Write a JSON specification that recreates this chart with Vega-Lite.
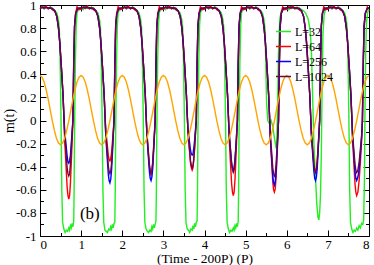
{
"$schema":"https://vega.github.io/schema/vega-lite/v6.json",
"width":329,"height":231,
"autosize":{"type":"none"},
"padding":{"left":40,"top":5,"right":5,"bottom":29},
"background":"white",
"config":{
"view":{"stroke":"black","strokeWidth":1},
"axis":{"grid":false,"domain":false,"tickColor":"black","tickWidth":1,"labelFont":"Liberation Serif","labelFontSize":13,"labelColor":"black","titleFont":"Liberation Serif","titleFontSize":14,"titleFontWeight":"normal","titleColor":"black"}
},
"resolve":{"axis":{"x":"independent","y":"independent"}},
"datasets":{
"lab":[{"t":0.97,"m":-0.81,"label":"(b)"}],
"h":[
{"t":0,"h":0.39},{"t":0.05,"h":0.375},{"t":0.1,"h":0.333},{"t":0.15,"h":0.266},{"t":0.2,"h":0.183},{"t":0.25,"h":0.09},{"t":0.3,"h":-0.003},{"t":0.35,"h":-0.086},{"t":0.4,"h":-0.153},{"t":0.45,"h":-0.195},{"t":0.5,"h":-0.21},{"t":0.55,"h":-0.195},{"t":0.6,"h":-0.153},{"t":0.65,"h":-0.086},{"t":0.7,"h":-0.003},{"t":0.75,"h":0.09},{"t":0.8,"h":0.183},{"t":0.85,"h":0.266},{"t":0.9,"h":0.333},{"t":0.95,"h":0.375},
{"t":1,"h":0.39},{"t":1.05,"h":0.375},{"t":1.1,"h":0.333},{"t":1.15,"h":0.266},{"t":1.2,"h":0.183},{"t":1.25,"h":0.09},{"t":1.3,"h":-0.003},{"t":1.35,"h":-0.086},{"t":1.4,"h":-0.153},{"t":1.45,"h":-0.195},{"t":1.5,"h":-0.21},{"t":1.55,"h":-0.195},{"t":1.6,"h":-0.153},{"t":1.65,"h":-0.086},{"t":1.7,"h":-0.003},{"t":1.75,"h":0.09},{"t":1.8,"h":0.183},{"t":1.85,"h":0.266},{"t":1.9,"h":0.333},{"t":1.95,"h":0.375},
{"t":2,"h":0.39},{"t":2.05,"h":0.375},{"t":2.1,"h":0.333},{"t":2.15,"h":0.266},{"t":2.2,"h":0.183},{"t":2.25,"h":0.09},{"t":2.3,"h":-0.003},{"t":2.35,"h":-0.086},{"t":2.4,"h":-0.153},{"t":2.45,"h":-0.195},{"t":2.5,"h":-0.21},{"t":2.55,"h":-0.195},{"t":2.6,"h":-0.153},{"t":2.65,"h":-0.086},{"t":2.7,"h":-0.003},{"t":2.75,"h":0.09},{"t":2.8,"h":0.183},{"t":2.85,"h":0.266},{"t":2.9,"h":0.333},{"t":2.95,"h":0.375},
{"t":3,"h":0.39},{"t":3.05,"h":0.375},{"t":3.1,"h":0.333},{"t":3.15,"h":0.266},{"t":3.2,"h":0.183},{"t":3.25,"h":0.09},{"t":3.3,"h":-0.003},{"t":3.35,"h":-0.086},{"t":3.4,"h":-0.153},{"t":3.45,"h":-0.195},{"t":3.5,"h":-0.21},{"t":3.55,"h":-0.195},{"t":3.6,"h":-0.153},{"t":3.65,"h":-0.086},{"t":3.7,"h":-0.003},{"t":3.75,"h":0.09},{"t":3.8,"h":0.183},{"t":3.85,"h":0.266},{"t":3.9,"h":0.333},{"t":3.95,"h":0.375},
{"t":4,"h":0.39},{"t":4.05,"h":0.375},{"t":4.1,"h":0.333},{"t":4.15,"h":0.266},{"t":4.2,"h":0.183},{"t":4.25,"h":0.09},{"t":4.3,"h":-0.003},{"t":4.35,"h":-0.086},{"t":4.4,"h":-0.153},{"t":4.45,"h":-0.195},{"t":4.5,"h":-0.21},{"t":4.55,"h":-0.195},{"t":4.6,"h":-0.153},{"t":4.65,"h":-0.086},{"t":4.7,"h":-0.003},{"t":4.75,"h":0.09},{"t":4.8,"h":0.183},{"t":4.85,"h":0.266},{"t":4.9,"h":0.333},{"t":4.95,"h":0.375},
{"t":5,"h":0.39},{"t":5.05,"h":0.375},{"t":5.1,"h":0.333},{"t":5.15,"h":0.266},{"t":5.2,"h":0.183},{"t":5.25,"h":0.09},{"t":5.3,"h":-0.003},{"t":5.35,"h":-0.086},{"t":5.4,"h":-0.153},{"t":5.45,"h":-0.195},{"t":5.5,"h":-0.21},{"t":5.55,"h":-0.195},{"t":5.6,"h":-0.153},{"t":5.65,"h":-0.086},{"t":5.7,"h":-0.003},{"t":5.75,"h":0.09},{"t":5.8,"h":0.183},{"t":5.85,"h":0.266},{"t":5.9,"h":0.333},{"t":5.95,"h":0.375},
{"t":6,"h":0.39},{"t":6.05,"h":0.375},{"t":6.1,"h":0.333},{"t":6.15,"h":0.266},{"t":6.2,"h":0.183},{"t":6.25,"h":0.09},{"t":6.3,"h":-0.003},{"t":6.35,"h":-0.086},{"t":6.4,"h":-0.153},{"t":6.45,"h":-0.195},{"t":6.5,"h":-0.21},{"t":6.55,"h":-0.195},{"t":6.6,"h":-0.153},{"t":6.65,"h":-0.086},{"t":6.7,"h":-0.003},{"t":6.75,"h":0.09},{"t":6.8,"h":0.183},{"t":6.85,"h":0.266},{"t":6.9,"h":0.333},{"t":6.95,"h":0.375},
{"t":7,"h":0.39},{"t":7.05,"h":0.375},{"t":7.1,"h":0.333},{"t":7.15,"h":0.266},{"t":7.2,"h":0.183},{"t":7.25,"h":0.09},{"t":7.3,"h":-0.003},{"t":7.35,"h":-0.086},{"t":7.4,"h":-0.153},{"t":7.45,"h":-0.195},{"t":7.5,"h":-0.21},{"t":7.55,"h":-0.195},{"t":7.6,"h":-0.153},{"t":7.65,"h":-0.086},{"t":7.7,"h":-0.003},{"t":7.75,"h":0.09},{"t":7.8,"h":0.183},{"t":7.85,"h":0.266},{"t":7.9,"h":0.333},{"t":7.95,"h":0.375},
{"t":8,"h":0.39}
],
"m":[
{"s":"L=32","t":0,"m":0.97},{"s":"L=32","t":0.05,"m":0.985},{"s":"L=32","t":0.1,"m":0.965},{"s":"L=32","t":0.15,"m":0.98},{"s":"L=32","t":0.2,"m":0.97},{"s":"L=32","t":0.25,"m":0.985},{"s":"L=32","t":0.3,"m":0.965},{"s":"L=32","t":0.36,"m":0.955},{"s":"L=32","t":0.41,"m":0.93},{"s":"L=32","t":0.45,"m":0.87},{"s":"L=32","t":0.47,"m":0.8},{"s":"L=32","t":0.49,"m":0.5},{"s":"L=32","t":0.51,"m":0.05},{"s":"L=32","t":0.53,"m":-0.6},{"s":"L=32","t":0.55,"m":-0.88},{"s":"L=32","t":0.58,"m":-0.94},{"s":"L=32","t":0.61,"m":-0.97},{"s":"L=32","t":0.64,"m":-0.95},{"s":"L=32","t":0.67,"m":-0.96},{"s":"L=32","t":0.7,"m":-0.93},{"s":"L=32","t":0.72,"m":-0.95},{"s":"L=32","t":0.74,"m":-0.91},{"s":"L=32","t":0.76,"m":-0.93},{"s":"L=32","t":0.78,"m":-0.89},{"s":"L=32","t":0.8,"m":-0.92},{"s":"L=32","t":0.82,"m":-0.87},{"s":"L=32","t":0.83,"m":-0.6},{"s":"L=32","t":0.84,"m":-0.1},{"s":"L=32","t":0.86,"m":0.5},{"s":"L=32","t":0.88,"m":0.82},{"s":"L=32","t":0.9,"m":0.93},{"s":"L=32","t":0.94,"m":0.97},
{"s":"L=32","t":1,"m":0.975},{"s":"L=32","t":1.05,"m":0.96},{"s":"L=32","t":1.1,"m":0.985},{"s":"L=32","t":1.15,"m":0.97},{"s":"L=32","t":1.2,"m":0.98},{"s":"L=32","t":1.25,"m":0.965},{"s":"L=32","t":1.3,"m":0.975},{"s":"L=32","t":1.36,"m":0.95},{"s":"L=32","t":1.41,"m":0.93},{"s":"L=32","t":1.45,"m":0.87},{"s":"L=32","t":1.47,"m":0.8},{"s":"L=32","t":1.49,"m":0.5},{"s":"L=32","t":1.51,"m":0.05},{"s":"L=32","t":1.53,"m":-0.6},{"s":"L=32","t":1.55,"m":-0.88},{"s":"L=32","t":1.58,"m":-0.95},{"s":"L=32","t":1.61,"m":-0.96},{"s":"L=32","t":1.64,"m":-0.97},{"s":"L=32","t":1.67,"m":-0.94},{"s":"L=32","t":1.7,"m":-0.95},{"s":"L=32","t":1.72,"m":-0.92},{"s":"L=32","t":1.74,"m":-0.94},{"s":"L=32","t":1.76,"m":-0.9},{"s":"L=32","t":1.78,"m":-0.93},{"s":"L=32","t":1.8,"m":-0.89},{"s":"L=32","t":1.82,"m":-0.88},{"s":"L=32","t":1.83,"m":-0.6},{"s":"L=32","t":1.84,"m":-0.1},{"s":"L=32","t":1.86,"m":0.5},{"s":"L=32","t":1.88,"m":0.82},{"s":"L=32","t":1.9,"m":0.93},{"s":"L=32","t":1.94,"m":0.97},
{"s":"L=32","t":2,"m":0.97},{"s":"L=32","t":2.05,"m":0.985},{"s":"L=32","t":2.1,"m":0.965},{"s":"L=32","t":2.15,"m":0.98},{"s":"L=32","t":2.2,"m":0.97},{"s":"L=32","t":2.25,"m":0.985},{"s":"L=32","t":2.3,"m":0.965},{"s":"L=32","t":2.36,"m":0.955},{"s":"L=32","t":2.41,"m":0.93},{"s":"L=32","t":2.45,"m":0.87},{"s":"L=32","t":2.47,"m":0.8},{"s":"L=32","t":2.49,"m":0.5},{"s":"L=32","t":2.51,"m":0.05},{"s":"L=32","t":2.53,"m":-0.6},{"s":"L=32","t":2.55,"m":-0.88},{"s":"L=32","t":2.58,"m":-0.94},{"s":"L=32","t":2.61,"m":-0.96},{"s":"L=32","t":2.64,"m":-0.97},{"s":"L=32","t":2.67,"m":-0.95},{"s":"L=32","t":2.7,"m":-0.96},{"s":"L=32","t":2.72,"m":-0.92},{"s":"L=32","t":2.74,"m":-0.94},{"s":"L=32","t":2.76,"m":-0.9},{"s":"L=32","t":2.78,"m":-0.93},{"s":"L=32","t":2.8,"m":-0.9},{"s":"L=32","t":2.82,"m":-0.87},{"s":"L=32","t":2.83,"m":-0.6},{"s":"L=32","t":2.84,"m":-0.1},{"s":"L=32","t":2.86,"m":0.5},{"s":"L=32","t":2.88,"m":0.82},{"s":"L=32","t":2.9,"m":0.93},{"s":"L=32","t":2.94,"m":0.97},
{"s":"L=32","t":3,"m":0.975},{"s":"L=32","t":3.05,"m":0.96},{"s":"L=32","t":3.1,"m":0.985},{"s":"L=32","t":3.15,"m":0.97},{"s":"L=32","t":3.2,"m":0.98},{"s":"L=32","t":3.25,"m":0.965},{"s":"L=32","t":3.3,"m":0.975},{"s":"L=32","t":3.36,"m":0.95},{"s":"L=32","t":3.41,"m":0.93},{"s":"L=32","t":3.45,"m":0.87},{"s":"L=32","t":3.47,"m":0.8},{"s":"L=32","t":3.49,"m":0.5},{"s":"L=32","t":3.51,"m":0.05},{"s":"L=32","t":3.53,"m":-0.6},{"s":"L=32","t":3.55,"m":-0.88},{"s":"L=32","t":3.58,"m":-0.94},{"s":"L=32","t":3.61,"m":-0.95},{"s":"L=32","t":3.64,"m":-0.97},{"s":"L=32","t":3.67,"m":-0.94},{"s":"L=32","t":3.7,"m":-0.95},{"s":"L=32","t":3.72,"m":-0.91},{"s":"L=32","t":3.74,"m":-0.94},{"s":"L=32","t":3.76,"m":-0.89},{"s":"L=32","t":3.78,"m":-0.92},{"s":"L=32","t":3.8,"m":-0.88},{"s":"L=32","t":3.82,"m":-0.87},{"s":"L=32","t":3.83,"m":-0.6},{"s":"L=32","t":3.84,"m":-0.1},{"s":"L=32","t":3.86,"m":0.5},{"s":"L=32","t":3.88,"m":0.82},{"s":"L=32","t":3.9,"m":0.93},{"s":"L=32","t":3.94,"m":0.97},
{"s":"L=32","t":4,"m":0.97},{"s":"L=32","t":4.05,"m":0.985},{"s":"L=32","t":4.1,"m":0.965},{"s":"L=32","t":4.15,"m":0.98},{"s":"L=32","t":4.2,"m":0.97},{"s":"L=32","t":4.25,"m":0.985},{"s":"L=32","t":4.3,"m":0.965},{"s":"L=32","t":4.36,"m":0.955},{"s":"L=32","t":4.41,"m":0.93},{"s":"L=32","t":4.45,"m":0.87},{"s":"L=32","t":4.47,"m":0.8},{"s":"L=32","t":4.49,"m":0.5},{"s":"L=32","t":4.51,"m":0.05},{"s":"L=32","t":4.53,"m":-0.6},{"s":"L=32","t":4.55,"m":-0.88},{"s":"L=32","t":4.58,"m":-0.94},{"s":"L=32","t":4.61,"m":-0.97},{"s":"L=32","t":4.64,"m":-0.95},{"s":"L=32","t":4.67,"m":-0.96},{"s":"L=32","t":4.7,"m":-0.93},{"s":"L=32","t":4.72,"m":-0.95},{"s":"L=32","t":4.74,"m":-0.91},{"s":"L=32","t":4.76,"m":-0.93},{"s":"L=32","t":4.78,"m":-0.89},{"s":"L=32","t":4.8,"m":-0.92},{"s":"L=32","t":4.82,"m":-0.87},{"s":"L=32","t":4.83,"m":-0.6},{"s":"L=32","t":4.84,"m":-0.1},{"s":"L=32","t":4.86,"m":0.5},{"s":"L=32","t":4.88,"m":0.82},{"s":"L=32","t":4.9,"m":0.93},{"s":"L=32","t":4.94,"m":0.97},
{"s":"L=32","t":5,"m":0.97},{"s":"L=32","t":5.05,"m":0.985},{"s":"L=32","t":5.1,"m":0.965},{"s":"L=32","t":5.15,"m":0.98},{"s":"L=32","t":5.2,"m":0.97},{"s":"L=32","t":5.25,"m":0.985},{"s":"L=32","t":5.3,"m":0.965},{"s":"L=32","t":5.36,"m":0.955},{"s":"L=32","t":5.41,"m":0.93},{"s":"L=32","t":5.45,"m":0.87},{"s":"L=32","t":5.47,"m":0.8},{"s":"L=32","t":5.49,"m":0.5},{"s":"L=32","t":5.51,"m":0.15},{"s":"L=32","t":5.54,"m":0.0},{"s":"L=32","t":5.58,"m":-0.03},{"s":"L=32","t":5.62,"m":0.0},{"s":"L=32","t":5.66,"m":-0.05},{"s":"L=32","t":5.7,"m":-0.15},{"s":"L=32","t":5.74,"m":-0.24},{"s":"L=32","t":5.76,"m":-0.15},{"s":"L=32","t":5.78,"m":0.2},{"s":"L=32","t":5.8,"m":0.6},{"s":"L=32","t":5.83,"m":0.88},{"s":"L=32","t":5.87,"m":0.95},{"s":"L=32","t":5.92,"m":0.97},
{"s":"L=32","t":6,"m":0.975},{"s":"L=32","t":6.05,"m":0.96},{"s":"L=32","t":6.1,"m":0.985},{"s":"L=32","t":6.15,"m":0.97},{"s":"L=32","t":6.2,"m":0.98},{"s":"L=32","t":6.25,"m":0.965},{"s":"L=32","t":6.3,"m":0.975},{"s":"L=32","t":6.36,"m":0.96},{"s":"L=32","t":6.41,"m":0.95},{"s":"L=32","t":6.46,"m":0.93},{"s":"L=32","t":6.52,"m":0.88},{"s":"L=32","t":6.57,"m":0.78},{"s":"L=32","t":6.6,"m":0.6},{"s":"L=32","t":6.63,"m":0.2},{"s":"L=32","t":6.66,"m":-0.2},{"s":"L=32","t":6.7,"m":-0.5},{"s":"L=32","t":6.73,"m":-0.72},{"s":"L=32","t":6.76,"m":-0.84},{"s":"L=32","t":6.78,"m":-0.86},{"s":"L=32","t":6.8,"m":-0.8},{"s":"L=32","t":6.82,"m":-0.65},{"s":"L=32","t":6.84,"m":-0.3},{"s":"L=32","t":6.86,"m":0.3},{"s":"L=32","t":6.88,"m":0.75},{"s":"L=32","t":6.91,"m":0.92},{"s":"L=32","t":6.95,"m":0.97},
{"s":"L=32","t":7,"m":0.97},{"s":"L=32","t":7.05,"m":0.985},{"s":"L=32","t":7.1,"m":0.965},{"s":"L=32","t":7.15,"m":0.98},{"s":"L=32","t":7.2,"m":0.97},{"s":"L=32","t":7.25,"m":0.985},{"s":"L=32","t":7.3,"m":0.965},{"s":"L=32","t":7.36,"m":0.955},{"s":"L=32","t":7.41,"m":0.93},{"s":"L=32","t":7.45,"m":0.87},{"s":"L=32","t":7.47,"m":0.8},{"s":"L=32","t":7.49,"m":0.5},{"s":"L=32","t":7.51,"m":0.05},{"s":"L=32","t":7.53,"m":-0.6},{"s":"L=32","t":7.55,"m":-0.88},{"s":"L=32","t":7.58,"m":-0.94},{"s":"L=32","t":7.61,"m":-0.97},{"s":"L=32","t":7.64,"m":-0.95},{"s":"L=32","t":7.67,"m":-0.96},{"s":"L=32","t":7.7,"m":-0.93},{"s":"L=32","t":7.73,"m":-0.95},{"s":"L=32","t":7.76,"m":-0.91},{"s":"L=32","t":7.79,"m":-0.93},{"s":"L=32","t":7.82,"m":-0.89},{"s":"L=32","t":7.85,"m":-0.9},{"s":"L=32","t":7.87,"m":-0.86},{"s":"L=32","t":7.89,"m":-0.5},{"s":"L=32","t":7.9,"m":0.0},{"s":"L=32","t":7.92,"m":0.6},{"s":"L=32","t":7.94,"m":0.85},{"s":"L=32","t":7.97,"m":0.94},{"s":"L=32","t":8,"m":0.96},

{"s":"L=64","t":0,"m":0.965},{"s":"L=64","t":0.05,"m":0.985},{"s":"L=64","t":0.1,"m":0.97},{"s":"L=64","t":0.15,"m":0.99},{"s":"L=64","t":0.2,"m":0.965},{"s":"L=64","t":0.25,"m":0.98},{"s":"L=64","t":0.3,"m":0.96},{"s":"L=64","t":0.36,"m":0.945},{"s":"L=64","t":0.41,"m":0.9},{"s":"L=64","t":0.45,"m":0.8},{"s":"L=64","t":0.48,"m":0.68},{"s":"L=64","t":0.52,"m":0.46},{"s":"L=64","t":0.56,"m":0.22},{"s":"L=64","t":0.58,"m":0.05},{"s":"L=64","t":0.6,"m":-0.17},{"s":"L=64","t":0.63,"m":-0.37},{"s":"L=64","t":0.66,"m":-0.58},{"s":"L=64","t":0.68,"m":-0.65},{"s":"L=64","t":0.7,"m":-0.68},{"s":"L=64","t":0.72,"m":-0.65},{"s":"L=64","t":0.74,"m":-0.54},{"s":"L=64","t":0.76,"m":-0.37},{"s":"L=64","t":0.78,"m":-0.19},{"s":"L=64","t":0.8,"m":0.0},{"s":"L=64","t":0.82,"m":0.45},{"s":"L=64","t":0.84,"m":0.8},{"s":"L=64","t":0.86,"m":0.92},{"s":"L=64","t":0.9,"m":0.985},{"s":"L=64","t":0.95,"m":0.96},
{"s":"L=64","t":1,"m":0.965},{"s":"L=64","t":1.05,"m":0.985},{"s":"L=64","t":1.1,"m":0.97},{"s":"L=64","t":1.15,"m":0.99},{"s":"L=64","t":1.2,"m":0.965},{"s":"L=64","t":1.25,"m":0.98},{"s":"L=64","t":1.3,"m":0.96},{"s":"L=64","t":1.36,"m":0.945},{"s":"L=64","t":1.41,"m":0.9},{"s":"L=64","t":1.45,"m":0.8},{"s":"L=64","t":1.48,"m":0.68},{"s":"L=64","t":1.52,"m":0.46},{"s":"L=64","t":1.56,"m":0.22},{"s":"L=64","t":1.58,"m":0.05},{"s":"L=64","t":1.6,"m":-0.09},{"s":"L=64","t":1.63,"m":-0.19},{"s":"L=64","t":1.66,"m":-0.3},{"s":"L=64","t":1.68,"m":-0.34},{"s":"L=64","t":1.7,"m":-0.35},{"s":"L=64","t":1.72,"m":-0.33},{"s":"L=64","t":1.74,"m":-0.28},{"s":"L=64","t":1.76,"m":-0.19},{"s":"L=64","t":1.78,"m":-0.1},{"s":"L=64","t":1.8,"m":0.0},{"s":"L=64","t":1.82,"m":0.45},{"s":"L=64","t":1.84,"m":0.8},{"s":"L=64","t":1.86,"m":0.92},{"s":"L=64","t":1.9,"m":0.985},{"s":"L=64","t":1.95,"m":0.96},
{"s":"L=64","t":2,"m":0.965},{"s":"L=64","t":2.05,"m":0.985},{"s":"L=64","t":2.1,"m":0.97},{"s":"L=64","t":2.15,"m":0.99},{"s":"L=64","t":2.2,"m":0.965},{"s":"L=64","t":2.25,"m":0.98},{"s":"L=64","t":2.3,"m":0.96},{"s":"L=64","t":2.36,"m":0.945},{"s":"L=64","t":2.41,"m":0.9},{"s":"L=64","t":2.45,"m":0.8},{"s":"L=64","t":2.48,"m":0.68},{"s":"L=64","t":2.52,"m":0.46},{"s":"L=64","t":2.56,"m":0.22},{"s":"L=64","t":2.58,"m":0.05},{"s":"L=64","t":2.6,"m":-0.12},{"s":"L=64","t":2.63,"m":-0.26},{"s":"L=64","t":2.66,"m":-0.4},{"s":"L=64","t":2.68,"m":-0.45},{"s":"L=64","t":2.7,"m":-0.47},{"s":"L=64","t":2.72,"m":-0.45},{"s":"L=64","t":2.74,"m":-0.38},{"s":"L=64","t":2.76,"m":-0.26},{"s":"L=64","t":2.78,"m":-0.13},{"s":"L=64","t":2.8,"m":0.0},{"s":"L=64","t":2.82,"m":0.45},{"s":"L=64","t":2.84,"m":0.8},{"s":"L=64","t":2.86,"m":0.92},{"s":"L=64","t":2.9,"m":0.985},{"s":"L=64","t":2.95,"m":0.96},
{"s":"L=64","t":3,"m":0.965},{"s":"L=64","t":3.05,"m":0.985},{"s":"L=64","t":3.1,"m":0.97},{"s":"L=64","t":3.15,"m":0.99},{"s":"L=64","t":3.2,"m":0.965},{"s":"L=64","t":3.25,"m":0.98},{"s":"L=64","t":3.3,"m":0.96},{"s":"L=64","t":3.36,"m":0.945},{"s":"L=64","t":3.41,"m":0.9},{"s":"L=64","t":3.45,"m":0.8},{"s":"L=64","t":3.48,"m":0.68},{"s":"L=64","t":3.52,"m":0.46},{"s":"L=64","t":3.56,"m":0.22},{"s":"L=64","t":3.58,"m":0.05},{"s":"L=64","t":3.6,"m":-0.11},{"s":"L=64","t":3.63,"m":-0.24},{"s":"L=64","t":3.66,"m":-0.37},{"s":"L=64","t":3.68,"m":-0.41},{"s":"L=64","t":3.7,"m":-0.43},{"s":"L=64","t":3.72,"m":-0.41},{"s":"L=64","t":3.74,"m":-0.34},{"s":"L=64","t":3.76,"m":-0.24},{"s":"L=64","t":3.78,"m":-0.12},{"s":"L=64","t":3.8,"m":0.0},{"s":"L=64","t":3.82,"m":0.45},{"s":"L=64","t":3.84,"m":0.8},{"s":"L=64","t":3.86,"m":0.92},{"s":"L=64","t":3.9,"m":0.985},{"s":"L=64","t":3.95,"m":0.96},
{"s":"L=64","t":4,"m":0.965},{"s":"L=64","t":4.05,"m":0.985},{"s":"L=64","t":4.1,"m":0.97},{"s":"L=64","t":4.15,"m":0.99},{"s":"L=64","t":4.2,"m":0.965},{"s":"L=64","t":4.25,"m":0.98},{"s":"L=64","t":4.3,"m":0.96},{"s":"L=64","t":4.36,"m":0.945},{"s":"L=64","t":4.41,"m":0.9},{"s":"L=64","t":4.45,"m":0.8},{"s":"L=64","t":4.48,"m":0.68},{"s":"L=64","t":4.52,"m":0.46},{"s":"L=64","t":4.56,"m":0.22},{"s":"L=64","t":4.58,"m":0.05},{"s":"L=64","t":4.6,"m":-0.16},{"s":"L=64","t":4.63,"m":-0.36},{"s":"L=64","t":4.66,"m":-0.55},{"s":"L=64","t":4.68,"m":-0.62},{"s":"L=64","t":4.7,"m":-0.65},{"s":"L=64","t":4.72,"m":-0.62},{"s":"L=64","t":4.74,"m":-0.52},{"s":"L=64","t":4.76,"m":-0.36},{"s":"L=64","t":4.78,"m":-0.18},{"s":"L=64","t":4.8,"m":0.0},{"s":"L=64","t":4.82,"m":0.45},{"s":"L=64","t":4.84,"m":0.8},{"s":"L=64","t":4.86,"m":0.92},{"s":"L=64","t":4.9,"m":0.985},{"s":"L=64","t":4.95,"m":0.96},
{"s":"L=64","t":5,"m":0.965},{"s":"L=64","t":5.05,"m":0.985},{"s":"L=64","t":5.1,"m":0.97},{"s":"L=64","t":5.15,"m":0.99},{"s":"L=64","t":5.2,"m":0.965},{"s":"L=64","t":5.25,"m":0.98},{"s":"L=64","t":5.3,"m":0.96},{"s":"L=64","t":5.36,"m":0.945},{"s":"L=64","t":5.41,"m":0.9},{"s":"L=64","t":5.45,"m":0.8},{"s":"L=64","t":5.48,"m":0.68},{"s":"L=64","t":5.52,"m":0.46},{"s":"L=64","t":5.56,"m":0.22},{"s":"L=64","t":5.58,"m":0.05},{"s":"L=64","t":5.6,"m":-0.16},{"s":"L=64","t":5.63,"m":-0.34},{"s":"L=64","t":5.66,"m":-0.53},{"s":"L=64","t":5.68,"m":-0.6},{"s":"L=64","t":5.7,"m":-0.62},{"s":"L=64","t":5.72,"m":-0.59},{"s":"L=64","t":5.74,"m":-0.5},{"s":"L=64","t":5.76,"m":-0.34},{"s":"L=64","t":5.78,"m":-0.17},{"s":"L=64","t":5.8,"m":0.0},{"s":"L=64","t":5.82,"m":0.45},{"s":"L=64","t":5.84,"m":0.8},{"s":"L=64","t":5.86,"m":0.92},{"s":"L=64","t":5.9,"m":0.985},{"s":"L=64","t":5.95,"m":0.96},
{"s":"L=64","t":6,"m":0.965},{"s":"L=64","t":6.05,"m":0.985},{"s":"L=64","t":6.1,"m":0.97},{"s":"L=64","t":6.15,"m":0.99},{"s":"L=64","t":6.2,"m":0.965},{"s":"L=64","t":6.25,"m":0.98},{"s":"L=64","t":6.3,"m":0.96},{"s":"L=64","t":6.36,"m":0.945},{"s":"L=64","t":6.41,"m":0.9},{"s":"L=64","t":6.45,"m":0.8},{"s":"L=64","t":6.48,"m":0.68},{"s":"L=64","t":6.52,"m":0.46},{"s":"L=64","t":6.56,"m":0.22},{"s":"L=64","t":6.58,"m":0.05},{"s":"L=64","t":6.6,"m":-0.11},{"s":"L=64","t":6.63,"m":-0.25},{"s":"L=64","t":6.66,"m":-0.38},{"s":"L=64","t":6.68,"m":-0.43},{"s":"L=64","t":6.7,"m":-0.45},{"s":"L=64","t":6.72,"m":-0.43},{"s":"L=64","t":6.74,"m":-0.36},{"s":"L=64","t":6.76,"m":-0.25},{"s":"L=64","t":6.78,"m":-0.13},{"s":"L=64","t":6.8,"m":0.0},{"s":"L=64","t":6.82,"m":0.45},{"s":"L=64","t":6.84,"m":0.8},{"s":"L=64","t":6.86,"m":0.92},{"s":"L=64","t":6.9,"m":0.985},{"s":"L=64","t":6.95,"m":0.96},
{"s":"L=64","t":7,"m":0.965},{"s":"L=64","t":7.05,"m":0.985},{"s":"L=64","t":7.1,"m":0.97},{"s":"L=64","t":7.15,"m":0.99},{"s":"L=64","t":7.2,"m":0.965},{"s":"L=64","t":7.25,"m":0.98},{"s":"L=64","t":7.3,"m":0.96},{"s":"L=64","t":7.36,"m":0.945},{"s":"L=64","t":7.41,"m":0.9},{"s":"L=64","t":7.45,"m":0.8},{"s":"L=64","t":7.48,"m":0.68},{"s":"L=64","t":7.52,"m":0.46},{"s":"L=64","t":7.56,"m":0.22},{"s":"L=64","t":7.58,"m":0.05},{"s":"L=64","t":7.6,"m":-0.16},{"s":"L=64","t":7.63,"m":-0.36},{"s":"L=64","t":7.66,"m":-0.55},{"s":"L=64","t":7.68,"m":-0.62},{"s":"L=64","t":7.7,"m":-0.65},{"s":"L=64","t":7.73,"m":-0.62},{"s":"L=64","t":7.76,"m":-0.52},{"s":"L=64","t":7.79,"m":-0.36},{"s":"L=64","t":7.82,"m":-0.18},{"s":"L=64","t":7.84,"m":0.0},{"s":"L=64","t":7.86,"m":0.45},{"s":"L=64","t":7.88,"m":0.8},{"s":"L=64","t":7.91,"m":0.92},{"s":"L=64","t":7.96,"m":0.985},{"s":"L=64","t":8,"m":0.965},

{"s":"L=256","t":0,"m":0.975},{"s":"L=256","t":0.1,"m":0.98},{"s":"L=256","t":0.2,"m":0.975},{"s":"L=256","t":0.3,"m":0.97},{"s":"L=256","t":0.36,"m":0.95},{"s":"L=256","t":0.41,"m":0.9},{"s":"L=256","t":0.45,"m":0.8},{"s":"L=256","t":0.48,"m":0.68},{"s":"L=256","t":0.52,"m":0.46},{"s":"L=256","t":0.56,"m":0.22},{"s":"L=256","t":0.58,"m":0.05},{"s":"L=256","t":0.6,"m":-0.09},{"s":"L=256","t":0.63,"m":-0.2},{"s":"L=256","t":0.66,"m":-0.31},{"s":"L=256","t":0.68,"m":-0.36},{"s":"L=256","t":0.7,"m":-0.37},{"s":"L=256","t":0.72,"m":-0.35},{"s":"L=256","t":0.74,"m":-0.3},{"s":"L=256","t":0.76,"m":-0.2},{"s":"L=256","t":0.78,"m":-0.1},{"s":"L=256","t":0.8,"m":0.0},{"s":"L=256","t":0.82,"m":0.5},{"s":"L=256","t":0.84,"m":0.82},{"s":"L=256","t":0.87,"m":0.93},{"s":"L=256","t":0.92,"m":0.97},
{"s":"L=256","t":1,"m":0.975},{"s":"L=256","t":1.1,"m":0.98},{"s":"L=256","t":1.2,"m":0.975},{"s":"L=256","t":1.3,"m":0.97},{"s":"L=256","t":1.36,"m":0.95},{"s":"L=256","t":1.41,"m":0.9},{"s":"L=256","t":1.45,"m":0.8},{"s":"L=256","t":1.48,"m":0.68},{"s":"L=256","t":1.52,"m":0.46},{"s":"L=256","t":1.56,"m":0.22},{"s":"L=256","t":1.58,"m":0.05},{"s":"L=256","t":1.6,"m":-0.14},{"s":"L=256","t":1.63,"m":-0.3},{"s":"L=256","t":1.66,"m":-0.46},{"s":"L=256","t":1.68,"m":-0.52},{"s":"L=256","t":1.7,"m":-0.54},{"s":"L=256","t":1.72,"m":-0.51},{"s":"L=256","t":1.74,"m":-0.43},{"s":"L=256","t":1.76,"m":-0.3},{"s":"L=256","t":1.78,"m":-0.15},{"s":"L=256","t":1.8,"m":0.0},{"s":"L=256","t":1.82,"m":0.5},{"s":"L=256","t":1.84,"m":0.82},{"s":"L=256","t":1.87,"m":0.93},{"s":"L=256","t":1.92,"m":0.97},
{"s":"L=256","t":2,"m":0.975},{"s":"L=256","t":2.1,"m":0.98},{"s":"L=256","t":2.2,"m":0.975},{"s":"L=256","t":2.3,"m":0.97},{"s":"L=256","t":2.36,"m":0.95},{"s":"L=256","t":2.41,"m":0.9},{"s":"L=256","t":2.45,"m":0.8},{"s":"L=256","t":2.48,"m":0.68},{"s":"L=256","t":2.52,"m":0.46},{"s":"L=256","t":2.56,"m":0.22},{"s":"L=256","t":2.58,"m":0.05},{"s":"L=256","t":2.6,"m":-0.13},{"s":"L=256","t":2.63,"m":-0.29},{"s":"L=256","t":2.66,"m":-0.44},{"s":"L=256","t":2.68,"m":-0.5},{"s":"L=256","t":2.7,"m":-0.52},{"s":"L=256","t":2.72,"m":-0.49},{"s":"L=256","t":2.74,"m":-0.42},{"s":"L=256","t":2.76,"m":-0.29},{"s":"L=256","t":2.78,"m":-0.15},{"s":"L=256","t":2.8,"m":0.0},{"s":"L=256","t":2.82,"m":0.5},{"s":"L=256","t":2.84,"m":0.82},{"s":"L=256","t":2.87,"m":0.93},{"s":"L=256","t":2.92,"m":0.97},
{"s":"L=256","t":3,"m":0.975},{"s":"L=256","t":3.1,"m":0.98},{"s":"L=256","t":3.2,"m":0.975},{"s":"L=256","t":3.3,"m":0.97},{"s":"L=256","t":3.36,"m":0.95},{"s":"L=256","t":3.41,"m":0.9},{"s":"L=256","t":3.45,"m":0.8},{"s":"L=256","t":3.48,"m":0.68},{"s":"L=256","t":3.52,"m":0.46},{"s":"L=256","t":3.56,"m":0.22},{"s":"L=256","t":3.58,"m":0.05},{"s":"L=256","t":3.6,"m":-0.08},{"s":"L=256","t":3.63,"m":-0.17},{"s":"L=256","t":3.66,"m":-0.26},{"s":"L=256","t":3.68,"m":-0.29},{"s":"L=256","t":3.7,"m":-0.3},{"s":"L=256","t":3.72,"m":-0.29},{"s":"L=256","t":3.74,"m":-0.24},{"s":"L=256","t":3.76,"m":-0.17},{"s":"L=256","t":3.78,"m":-0.08},{"s":"L=256","t":3.8,"m":0.0},{"s":"L=256","t":3.82,"m":0.5},{"s":"L=256","t":3.84,"m":0.82},{"s":"L=256","t":3.87,"m":0.93},{"s":"L=256","t":3.92,"m":0.97},
{"s":"L=256","t":4,"m":0.975},{"s":"L=256","t":4.1,"m":0.98},{"s":"L=256","t":4.2,"m":0.975},{"s":"L=256","t":4.3,"m":0.97},{"s":"L=256","t":4.36,"m":0.95},{"s":"L=256","t":4.41,"m":0.9},{"s":"L=256","t":4.45,"m":0.8},{"s":"L=256","t":4.48,"m":0.68},{"s":"L=256","t":4.52,"m":0.46},{"s":"L=256","t":4.56,"m":0.22},{"s":"L=256","t":4.58,"m":0.05},{"s":"L=256","t":4.6,"m":-0.11},{"s":"L=256","t":4.63,"m":-0.24},{"s":"L=256","t":4.66,"m":-0.37},{"s":"L=256","t":4.68,"m":-0.41},{"s":"L=256","t":4.7,"m":-0.43},{"s":"L=256","t":4.72,"m":-0.41},{"s":"L=256","t":4.74,"m":-0.34},{"s":"L=256","t":4.76,"m":-0.24},{"s":"L=256","t":4.78,"m":-0.12},{"s":"L=256","t":4.8,"m":0.0},{"s":"L=256","t":4.82,"m":0.5},{"s":"L=256","t":4.84,"m":0.82},{"s":"L=256","t":4.87,"m":0.93},{"s":"L=256","t":4.92,"m":0.97},
{"s":"L=256","t":5,"m":0.975},{"s":"L=256","t":5.1,"m":0.98},{"s":"L=256","t":5.2,"m":0.975},{"s":"L=256","t":5.3,"m":0.97},{"s":"L=256","t":5.36,"m":0.95},{"s":"L=256","t":5.41,"m":0.9},{"s":"L=256","t":5.45,"m":0.8},{"s":"L=256","t":5.48,"m":0.68},{"s":"L=256","t":5.52,"m":0.46},{"s":"L=256","t":5.56,"m":0.22},{"s":"L=256","t":5.58,"m":0.05},{"s":"L=256","t":5.6,"m":-0.14},{"s":"L=256","t":5.63,"m":-0.31},{"s":"L=256","t":5.66,"m":-0.48},{"s":"L=256","t":5.68,"m":-0.54},{"s":"L=256","t":5.7,"m":-0.56},{"s":"L=256","t":5.72,"m":-0.53},{"s":"L=256","t":5.74,"m":-0.45},{"s":"L=256","t":5.76,"m":-0.31},{"s":"L=256","t":5.78,"m":-0.16},{"s":"L=256","t":5.8,"m":0.0},{"s":"L=256","t":5.82,"m":0.5},{"s":"L=256","t":5.84,"m":0.82},{"s":"L=256","t":5.87,"m":0.93},{"s":"L=256","t":5.92,"m":0.97},
{"s":"L=256","t":6,"m":0.975},{"s":"L=256","t":6.1,"m":0.98},{"s":"L=256","t":6.2,"m":0.975},{"s":"L=256","t":6.3,"m":0.97},{"s":"L=256","t":6.36,"m":0.95},{"s":"L=256","t":6.41,"m":0.9},{"s":"L=256","t":6.45,"m":0.8},{"s":"L=256","t":6.48,"m":0.68},{"s":"L=256","t":6.52,"m":0.46},{"s":"L=256","t":6.56,"m":0.22},{"s":"L=256","t":6.58,"m":0.05},{"s":"L=256","t":6.6,"m":-0.13},{"s":"L=256","t":6.63,"m":-0.29},{"s":"L=256","t":6.66,"m":-0.44},{"s":"L=256","t":6.68,"m":-0.5},{"s":"L=256","t":6.7,"m":-0.52},{"s":"L=256","t":6.72,"m":-0.49},{"s":"L=256","t":6.74,"m":-0.42},{"s":"L=256","t":6.76,"m":-0.29},{"s":"L=256","t":6.78,"m":-0.15},{"s":"L=256","t":6.8,"m":0.0},{"s":"L=256","t":6.82,"m":0.5},{"s":"L=256","t":6.84,"m":0.82},{"s":"L=256","t":6.87,"m":0.93},{"s":"L=256","t":6.92,"m":0.97},
{"s":"L=256","t":7,"m":0.975},{"s":"L=256","t":7.1,"m":0.98},{"s":"L=256","t":7.2,"m":0.975},{"s":"L=256","t":7.3,"m":0.97},{"s":"L=256","t":7.36,"m":0.95},{"s":"L=256","t":7.41,"m":0.9},{"s":"L=256","t":7.45,"m":0.8},{"s":"L=256","t":7.48,"m":0.68},{"s":"L=256","t":7.52,"m":0.46},{"s":"L=256","t":7.56,"m":0.22},{"s":"L=256","t":7.58,"m":0.05},{"s":"L=256","t":7.6,"m":-0.13},{"s":"L=256","t":7.63,"m":-0.29},{"s":"L=256","t":7.66,"m":-0.44},{"s":"L=256","t":7.68,"m":-0.5},{"s":"L=256","t":7.7,"m":-0.52},{"s":"L=256","t":7.73,"m":-0.49},{"s":"L=256","t":7.76,"m":-0.42},{"s":"L=256","t":7.79,"m":-0.29},{"s":"L=256","t":7.82,"m":-0.15},{"s":"L=256","t":7.84,"m":0.0},{"s":"L=256","t":7.86,"m":0.5},{"s":"L=256","t":7.88,"m":0.82},{"s":"L=256","t":7.91,"m":0.93},{"s":"L=256","t":7.96,"m":0.97},{"s":"L=256","t":8,"m":0.975},

{"s":"L=1024","t":0,"m":0.975},{"s":"L=1024","t":0.1,"m":0.98},{"s":"L=1024","t":0.2,"m":0.975},{"s":"L=1024","t":0.3,"m":0.97},{"s":"L=1024","t":0.36,"m":0.95},{"s":"L=1024","t":0.41,"m":0.9},{"s":"L=1024","t":0.45,"m":0.8},{"s":"L=1024","t":0.48,"m":0.68},{"s":"L=1024","t":0.52,"m":0.46},{"s":"L=1024","t":0.56,"m":0.22},{"s":"L=1024","t":0.58,"m":0.05},{"s":"L=1024","t":0.6,"m":-0.12},{"s":"L=1024","t":0.63,"m":-0.26},{"s":"L=1024","t":0.66,"m":-0.41},{"s":"L=1024","t":0.68,"m":-0.46},{"s":"L=1024","t":0.7,"m":-0.48},{"s":"L=1024","t":0.72,"m":-0.46},{"s":"L=1024","t":0.74,"m":-0.38},{"s":"L=1024","t":0.76,"m":-0.26},{"s":"L=1024","t":0.78,"m":-0.13},{"s":"L=1024","t":0.8,"m":0.0},{"s":"L=1024","t":0.82,"m":0.5},{"s":"L=1024","t":0.84,"m":0.82},{"s":"L=1024","t":0.87,"m":0.93},{"s":"L=1024","t":0.92,"m":0.97},
{"s":"L=1024","t":1,"m":0.975},{"s":"L=1024","t":1.1,"m":0.98},{"s":"L=1024","t":1.2,"m":0.975},{"s":"L=1024","t":1.3,"m":0.97},{"s":"L=1024","t":1.36,"m":0.95},{"s":"L=1024","t":1.41,"m":0.9},{"s":"L=1024","t":1.45,"m":0.8},{"s":"L=1024","t":1.48,"m":0.68},{"s":"L=1024","t":1.52,"m":0.46},{"s":"L=1024","t":1.56,"m":0.22},{"s":"L=1024","t":1.58,"m":0.05},{"s":"L=1024","t":1.6,"m":-0.12},{"s":"L=1024","t":1.63,"m":-0.25},{"s":"L=1024","t":1.66,"m":-0.39},{"s":"L=1024","t":1.68,"m":-0.44},{"s":"L=1024","t":1.7,"m":-0.46},{"s":"L=1024","t":1.72,"m":-0.44},{"s":"L=1024","t":1.74,"m":-0.37},{"s":"L=1024","t":1.76,"m":-0.25},{"s":"L=1024","t":1.78,"m":-0.13},{"s":"L=1024","t":1.8,"m":0.0},{"s":"L=1024","t":1.82,"m":0.5},{"s":"L=1024","t":1.84,"m":0.82},{"s":"L=1024","t":1.87,"m":0.93},{"s":"L=1024","t":1.92,"m":0.97},
{"s":"L=1024","t":2,"m":0.975},{"s":"L=1024","t":2.1,"m":0.98},{"s":"L=1024","t":2.2,"m":0.975},{"s":"L=1024","t":2.3,"m":0.97},{"s":"L=1024","t":2.36,"m":0.95},{"s":"L=1024","t":2.41,"m":0.9},{"s":"L=1024","t":2.45,"m":0.8},{"s":"L=1024","t":2.48,"m":0.68},{"s":"L=1024","t":2.52,"m":0.46},{"s":"L=1024","t":2.56,"m":0.22},{"s":"L=1024","t":2.58,"m":0.05},{"s":"L=1024","t":2.6,"m":-0.11},{"s":"L=1024","t":2.63,"m":-0.25},{"s":"L=1024","t":2.66,"m":-0.38},{"s":"L=1024","t":2.68,"m":-0.43},{"s":"L=1024","t":2.7,"m":-0.45},{"s":"L=1024","t":2.72,"m":-0.43},{"s":"L=1024","t":2.74,"m":-0.36},{"s":"L=1024","t":2.76,"m":-0.25},{"s":"L=1024","t":2.78,"m":-0.13},{"s":"L=1024","t":2.8,"m":0.0},{"s":"L=1024","t":2.82,"m":0.5},{"s":"L=1024","t":2.84,"m":0.82},{"s":"L=1024","t":2.87,"m":0.93},{"s":"L=1024","t":2.92,"m":0.97},
{"s":"L=1024","t":3,"m":0.975},{"s":"L=1024","t":3.1,"m":0.98},{"s":"L=1024","t":3.2,"m":0.975},{"s":"L=1024","t":3.3,"m":0.97},{"s":"L=1024","t":3.36,"m":0.95},{"s":"L=1024","t":3.41,"m":0.9},{"s":"L=1024","t":3.45,"m":0.8},{"s":"L=1024","t":3.48,"m":0.68},{"s":"L=1024","t":3.52,"m":0.46},{"s":"L=1024","t":3.56,"m":0.22},{"s":"L=1024","t":3.58,"m":0.05},{"s":"L=1024","t":3.6,"m":-0.1},{"s":"L=1024","t":3.63,"m":-0.23},{"s":"L=1024","t":3.66,"m":-0.35},{"s":"L=1024","t":3.68,"m":-0.39},{"s":"L=1024","t":3.7,"m":-0.41},{"s":"L=1024","t":3.72,"m":-0.39},{"s":"L=1024","t":3.74,"m":-0.33},{"s":"L=1024","t":3.76,"m":-0.23},{"s":"L=1024","t":3.78,"m":-0.11},{"s":"L=1024","t":3.8,"m":0.0},{"s":"L=1024","t":3.82,"m":0.5},{"s":"L=1024","t":3.84,"m":0.82},{"s":"L=1024","t":3.87,"m":0.93},{"s":"L=1024","t":3.92,"m":0.97},
{"s":"L=1024","t":4,"m":0.975},{"s":"L=1024","t":4.1,"m":0.98},{"s":"L=1024","t":4.2,"m":0.975},{"s":"L=1024","t":4.3,"m":0.97},{"s":"L=1024","t":4.36,"m":0.95},{"s":"L=1024","t":4.41,"m":0.9},{"s":"L=1024","t":4.45,"m":0.8},{"s":"L=1024","t":4.48,"m":0.68},{"s":"L=1024","t":4.52,"m":0.46},{"s":"L=1024","t":4.56,"m":0.22},{"s":"L=1024","t":4.58,"m":0.05},{"s":"L=1024","t":4.6,"m":-0.11},{"s":"L=1024","t":4.63,"m":-0.25},{"s":"L=1024","t":4.66,"m":-0.38},{"s":"L=1024","t":4.68,"m":-0.43},{"s":"L=1024","t":4.7,"m":-0.45},{"s":"L=1024","t":4.72,"m":-0.43},{"s":"L=1024","t":4.74,"m":-0.36},{"s":"L=1024","t":4.76,"m":-0.25},{"s":"L=1024","t":4.78,"m":-0.13},{"s":"L=1024","t":4.8,"m":0.0},{"s":"L=1024","t":4.82,"m":0.5},{"s":"L=1024","t":4.84,"m":0.82},{"s":"L=1024","t":4.87,"m":0.93},{"s":"L=1024","t":4.92,"m":0.97},
{"s":"L=1024","t":5,"m":0.975},{"s":"L=1024","t":5.1,"m":0.98},{"s":"L=1024","t":5.2,"m":0.975},{"s":"L=1024","t":5.3,"m":0.97},{"s":"L=1024","t":5.36,"m":0.95},{"s":"L=1024","t":5.41,"m":0.9},{"s":"L=1024","t":5.45,"m":0.8},{"s":"L=1024","t":5.48,"m":0.68},{"s":"L=1024","t":5.52,"m":0.46},{"s":"L=1024","t":5.56,"m":0.22},{"s":"L=1024","t":5.58,"m":0.05},{"s":"L=1024","t":5.6,"m":-0.12},{"s":"L=1024","t":5.63,"m":-0.26},{"s":"L=1024","t":5.66,"m":-0.41},{"s":"L=1024","t":5.68,"m":-0.46},{"s":"L=1024","t":5.7,"m":-0.48},{"s":"L=1024","t":5.72,"m":-0.46},{"s":"L=1024","t":5.74,"m":-0.38},{"s":"L=1024","t":5.76,"m":-0.26},{"s":"L=1024","t":5.78,"m":-0.13},{"s":"L=1024","t":5.8,"m":0.0},{"s":"L=1024","t":5.82,"m":0.5},{"s":"L=1024","t":5.84,"m":0.82},{"s":"L=1024","t":5.87,"m":0.93},{"s":"L=1024","t":5.92,"m":0.97},
{"s":"L=1024","t":6,"m":0.975},{"s":"L=1024","t":6.1,"m":0.98},{"s":"L=1024","t":6.2,"m":0.975},{"s":"L=1024","t":6.3,"m":0.97},{"s":"L=1024","t":6.36,"m":0.95},{"s":"L=1024","t":6.41,"m":0.9},{"s":"L=1024","t":6.45,"m":0.8},{"s":"L=1024","t":6.48,"m":0.68},{"s":"L=1024","t":6.52,"m":0.46},{"s":"L=1024","t":6.56,"m":0.22},{"s":"L=1024","t":6.58,"m":0.05},{"s":"L=1024","t":6.6,"m":-0.11},{"s":"L=1024","t":6.63,"m":-0.25},{"s":"L=1024","t":6.66,"m":-0.38},{"s":"L=1024","t":6.68,"m":-0.43},{"s":"L=1024","t":6.7,"m":-0.45},{"s":"L=1024","t":6.72,"m":-0.43},{"s":"L=1024","t":6.74,"m":-0.36},{"s":"L=1024","t":6.76,"m":-0.25},{"s":"L=1024","t":6.78,"m":-0.13},{"s":"L=1024","t":6.8,"m":0.0},{"s":"L=1024","t":6.82,"m":0.5},{"s":"L=1024","t":6.84,"m":0.82},{"s":"L=1024","t":6.87,"m":0.93},{"s":"L=1024","t":6.92,"m":0.97},
{"s":"L=1024","t":7,"m":0.975},{"s":"L=1024","t":7.1,"m":0.98},{"s":"L=1024","t":7.2,"m":0.975},{"s":"L=1024","t":7.3,"m":0.97},{"s":"L=1024","t":7.36,"m":0.95},{"s":"L=1024","t":7.41,"m":0.9},{"s":"L=1024","t":7.45,"m":0.8},{"s":"L=1024","t":7.48,"m":0.68},{"s":"L=1024","t":7.52,"m":0.46},{"s":"L=1024","t":7.56,"m":0.22},{"s":"L=1024","t":7.58,"m":0.05},{"s":"L=1024","t":7.6,"m":-0.11},{"s":"L=1024","t":7.63,"m":-0.25},{"s":"L=1024","t":7.66,"m":-0.38},{"s":"L=1024","t":7.68,"m":-0.43},{"s":"L=1024","t":7.7,"m":-0.45},{"s":"L=1024","t":7.73,"m":-0.43},{"s":"L=1024","t":7.76,"m":-0.36},{"s":"L=1024","t":7.79,"m":-0.25},{"s":"L=1024","t":7.82,"m":-0.13},{"s":"L=1024","t":7.84,"m":0.0},{"s":"L=1024","t":7.86,"m":0.5},{"s":"L=1024","t":7.88,"m":0.82},{"s":"L=1024","t":7.91,"m":0.93},{"s":"L=1024","t":7.96,"m":0.97},{"s":"L=1024","t":8,"m":0.975}
]
},
"layer":[
{"mark":{"type":"rule","color":"#222222","strokeWidth":1},
 "encoding":{"y":{"datum":0,"type":"quantitative","axis":null}}},
{"data":{"name":"m"},
 "mark":{"type":"line","strokeWidth":1.4},
 "encoding":{
  "x":{"field":"t","type":"quantitative","scale":{"domain":[0,8],"nice":false,"zero":false},
       "axis":{"orient":"bottom","values":[0,1,2,3,4,5,6,7,8],"tickSize":-6,"labelPadding":8,"labelExpr":"'' + datum.value","title":"(Time - 200P) (P)","titlePadding":0,"titleFontSize":13.5}},
  "y":{"field":"m","type":"quantitative","scale":{"domain":[-1,1],"nice":false,"zero":false},
       "axis":{"orient":"left","values":[-1,-0.8,-0.6,-0.4,-0.2,0,0.2,0.4,0.6,0.8,1],"tickSize":-6,"labelPadding":10,"labelExpr":"'' + datum.value","title":"m(t)","titlePadding":-1}},
  "color":{"field":"s","type":"nominal",
       "scale":{"domain":["L=32","L=64","L=256","L=1024"],"range":["#22ee22","#ff0000","#0000ff","#670748"]},
       "legend":{"orient":"none","legendX":235,"legendY":18,"title":null,"labelFont":"Liberation Serif","labelFontSize":12,"labelColor":"black","symbolType":"stroke","symbolSize":225,"symbolStrokeWidth":1.5,"rowPadding":-2,"padding":0,"labelOffset":3}}
 }},
{"data":{"name":"h"},
 "mark":{"type":"line","color":"#ffa500","strokeWidth":1.4},
 "encoding":{
  "x":{"field":"t","type":"quantitative","axis":{"orient":"bottom","values":[0.5,1.5,2.5,3.5,4.5,5.5,6.5,7.5],"tickSize":-3.5,"labels":false,"title":null}},
  "y":{"field":"h","type":"quantitative","axis":{"orient":"left","values":[-0.9,-0.7,-0.5,-0.3,-0.1,0.1,0.3,0.5,0.7,0.9],"tickSize":-3.5,"labels":false,"title":null}}
 }},
{"data":{"name":"lab"},
 "mark":{"type":"text","font":"Liberation Serif","fontSize":17,"align":"left","baseline":"middle","color":"black"},
 "encoding":{
  "x":{"field":"t","type":"quantitative","axis":{"orient":"top","values":[0,1,2,3,4,5,6,7,8],"tickSize":-6,"labels":false,"title":null}},
  "y":{"field":"m","type":"quantitative","axis":{"orient":"right","values":[-1,-0.8,-0.6,-0.4,-0.2,0,0.2,0.4,0.6,0.8,1],"tickSize":-6,"labels":false,"title":null}},
  "text":{"field":"label"}
 }},
{"data":{"name":"h"},
 "mark":{"type":"line","opacity":0},
 "encoding":{
  "x":{"field":"t","type":"quantitative","axis":{"orient":"top","values":[0.5,1.5,2.5,3.5,4.5,5.5,6.5,7.5],"tickSize":-3.5,"labels":false,"title":null}},
  "y":{"field":"h","type":"quantitative","axis":{"orient":"right","values":[-0.9,-0.7,-0.5,-0.3,-0.1,0.1,0.3,0.5,0.7,0.9],"tickSize":-3.5,"labels":false,"title":null}}
 }}
]
}
